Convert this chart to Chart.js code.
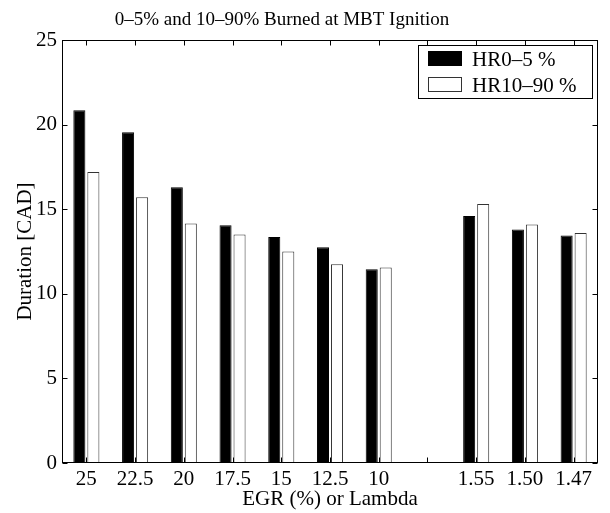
<!DOCTYPE html>
<html lang="en">
<head>
    <meta charset="UTF-8">
    <title>0–5% and 10–90% Burned at MBT Ignition</title>
    <style>
        html, body {
            margin: 0;
            padding: 0;
            background-color: #ffffff;
        }
        canvas {
            display: block;
        }
    </style>
</head>
<body>
    <canvas id="burnChart" width="610" height="513"></canvas>

    <script src="https://cdn.jsdelivr.net/npm/chart.js"></script>
    <script>
        // EGR levels (%) then lambda values, with an empty slot between the two groups
        const categories = ['25', '22.5', '20', '17.5', '15', '12.5', '10', '', '1.55', '1.50', '1.47'];
        const hr0to5 = [20.85, 19.55, 16.3, 14.05, 13.35, 12.75, 11.45, null, 14.6, 13.8, 13.45];
        const hr10to90 = [17.2, 15.7, 14.15, 13.5, 12.5, 11.75, 11.55, null, 15.3, 14.1, 13.6];
        const yTicks = [0, 5, 10, 15, 20, 25];

        const titleText = '0–5% and 10–90% Burned at MBT Ignition';
        const serif = '"Liberation Serif", "Times New Roman", serif';

        // axes box, inward tick marks, title and the boxed legend
        const framePlugin = {
            id: 'framePlugin',
            afterDraw(chart) {
                const { ctx, chartArea: a, scales: { x, y } } = chart;
                const L = Math.round(a.left) + 0.5, R = Math.round(a.right) - 0.5;
                const T = Math.round(a.top) + 0.5, B = Math.round(a.bottom) - 0.5;
                ctx.save();
                ctx.strokeStyle = '#000';
                ctx.lineWidth = 1;
                ctx.strokeRect(L, T, R - L, B - T);

                ctx.beginPath();
                categories.forEach((c, i) => {
                    const px = Math.round(x.getPixelForValue(i)) + 0.5;
                    ctx.moveTo(px, T); ctx.lineTo(px, T + 5);
                    ctx.moveTo(px, B); ctx.lineTo(px, B - 5);
                });
                yTicks.forEach(v => {
                    const py = Math.round(y.getPixelForValue(v)) + 0.5;
                    ctx.moveTo(L, py); ctx.lineTo(L + 5, py);
                    ctx.moveTo(R, py); ctx.lineTo(R - 5, py);
                });
                ctx.stroke();

                // title
                ctx.fillStyle = '#000';
                ctx.font = '19px ' + serif;
                ctx.textAlign = 'center';
                ctx.textBaseline = 'alphabetic';
                ctx.fillText(titleText, 282, 25);

                // legend
                const lx = 418, ly = 45, lw = 174, lh = 53;
                ctx.fillStyle = '#fff';
                ctx.fillRect(lx, ly, lw, lh);
                ctx.strokeRect(lx + 0.5, ly + 0.5, lw, lh);
                ctx.font = '21px ' + serif;
                ctx.textAlign = 'left';
                chart.data.datasets.forEach((ds, i) => {
                    const cy = ly + 13 + i * 26;
                    ctx.fillStyle = ds.backgroundColor;
                    ctx.fillRect(lx + 10, cy - 7, 34, 15);
                    ctx.strokeStyle = ds.borderColor;
                    ctx.strokeRect(lx + 10.5, cy - 6.5, 33, 14);
                    ctx.fillStyle = '#000';
                    ctx.fillText(ds.label, lx + 54, cy + 8);
                });
                ctx.restore();
            }
        };

        const ctx = document.getElementById('burnChart').getContext('2d');
        const chart = new Chart(ctx, {
            type: 'bar',
            data: {
                labels: categories,
                datasets: [
                    {
                        label: 'HR0–5 %',
                        data: hr0to5,
                        backgroundColor: '#000000',
                        borderColor: '#000000',
                        borderWidth: 1
                    },
                    {
                        label: 'HR10–90 %',
                        data: hr10to90,
                        backgroundColor: '#ffffff',
                        borderColor: '#333333',
                        borderWidth: 1
                    }
                ]
            },
            options: {
                responsive: false,
                animation: false,
                categoryPercentage: 0.575,
                barPercentage: 0.86,
                layout: {
                    padding: { top: 40, right: 12, left: 0, bottom: 0 }
                },
                plugins: {
                    legend: { display: false },
                    title: { display: false },
                    tooltip: { enabled: false }
                },
                scales: {
                    x: {
                        offset: true,
                        grid: { display: false, drawTicks: false },
                        border: { display: false },
                        ticks: {
                            color: '#000',
                            font: { family: serif, size: 21 },
                            padding: 4,
                            maxRotation: 0,
                            autoSkip: false
                        },
                        title: {
                            display: true,
                            text: 'EGR (%) or Lambda',
                            color: '#000',
                            font: { family: serif, size: 21 },
                            padding: { top: 0, bottom: 1 }
                        },
                        afterFit(scale) { scale.height = 50; }
                    },
                    y: {
                        min: 0,
                        max: 25,
                        afterBuildTicks(scale) {
                            scale.ticks = yTicks.map(v => ({ value: v }));
                        },
                        grid: { display: false, drawTicks: false },
                        border: { display: false },
                        ticks: {
                            color: '#000',
                            font: { family: serif, size: 21 },
                            padding: 5
                        },
                        title: {
                            display: true,
                            text: 'Duration [CAD]',
                            color: '#000',
                            font: { family: serif, size: 21 },
                            padding: { top: 13, bottom: 0 }
                        },
                        afterFit(scale) { scale.width = 62; }
                    }
                }
            },
            plugins: [framePlugin]
        });
    </script>
</body>
</html>
